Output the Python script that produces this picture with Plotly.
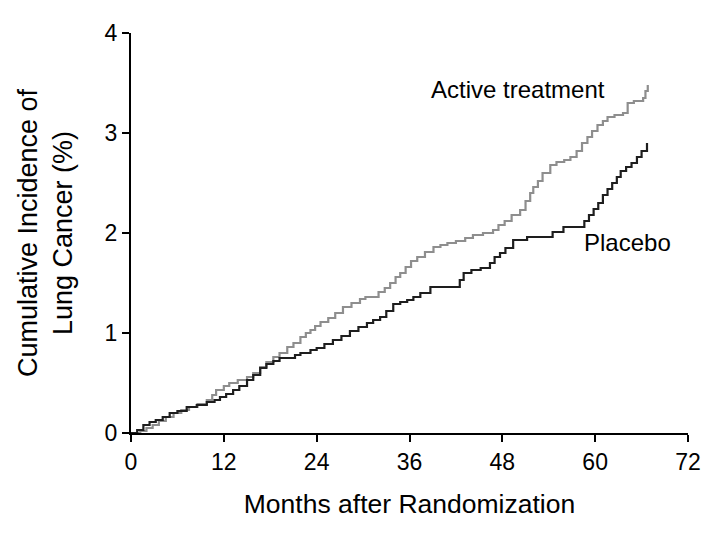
import plotly.graph_objects as go

# Active treatment (months, cumulative incidence %)
active_months = [0, 1.2, 2.0, 2.8, 3.6, 4.5, 5.5, 6.5, 7.5, 8.6, 9.8, 10.5, 11.0, 12.0, 12.7,
                 13.8, 15.0, 15.8, 16.7, 17.5, 18.4, 19.2, 20.2, 21.0, 21.9, 22.6, 23.2, 23.8,
                 24.5, 25.5, 26.4, 27.4, 28.5, 29.6, 30.3, 32.0, 32.8, 33.5, 34.2, 34.8, 35.5,
                 36.2, 37.0, 38.0, 39.1, 40.0, 40.9, 42.0, 43.2, 44.2, 45.5, 46.8, 47.5, 48.3,
                 49.2, 50.3, 51.0, 51.6, 52.0, 52.6, 53.2, 54.2, 55.0, 56.0, 56.8, 57.6, 58.3,
                 59.0, 59.6, 60.3, 61.0, 61.6, 62.5, 63.6, 64.2, 65.0, 66.2, 66.5, 66.8]
active_values = [0, 0.02, 0.05, 0.08, 0.12, 0.16, 0.20, 0.23, 0.26, 0.29, 0.33, 0.38, 0.43, 0.47, 0.50,
                 0.53, 0.56, 0.60, 0.66, 0.71, 0.76, 0.80, 0.86, 0.90, 0.96, 1.00, 1.03, 1.07,
                 1.11, 1.15, 1.20, 1.26, 1.30, 1.34, 1.36, 1.41, 1.45, 1.50, 1.56, 1.60, 1.66,
                 1.72, 1.76, 1.81, 1.86, 1.88, 1.90, 1.92, 1.95, 1.98, 2.00, 2.03, 2.08, 2.12,
                 2.18, 2.23, 2.32, 2.40, 2.46, 2.52, 2.60, 2.68, 2.71, 2.73, 2.76, 2.82, 2.90,
                 2.96, 3.02, 3.08, 3.12, 3.16, 3.18, 3.20, 3.30, 3.32, 3.35, 3.42, 3.48]

# Placebo
placebo_months = [0, 0.8, 1.6, 2.4, 3.2, 4.1, 5.0, 6.0, 7.2, 8.5, 9.8, 10.8, 11.5, 12.3, 13.2,
                  14.0, 15.0, 15.8, 16.7, 17.5, 18.4, 19.2, 21.2, 21.9, 23.2, 24.0, 25.0, 26.1,
                  27.2, 28.3, 29.4, 30.5, 31.3, 32.2, 33.0, 33.9, 34.8, 35.7, 36.5, 37.4, 38.7,
                  42.5, 43.0, 44.0, 45.2, 46.4, 47.0, 47.7, 48.4, 49.4, 51.2, 54.5, 55.9, 58.6,
                  59.2, 59.8, 60.4, 61.0, 61.6, 62.2, 62.8, 63.3, 64.0, 64.7, 65.4, 66.0, 66.7]
placebo_values = [0, 0.03, 0.08, 0.11, 0.13, 0.16, 0.20, 0.22, 0.26, 0.28, 0.31, 0.33, 0.36, 0.39, 0.43,
                  0.47, 0.53, 0.58, 0.65, 0.69, 0.72, 0.75, 0.78, 0.80, 0.83, 0.85, 0.89, 0.93,
                  0.97, 1.02, 1.06, 1.10, 1.13, 1.16, 1.22, 1.29, 1.31, 1.33, 1.36, 1.40, 1.46,
                  1.53, 1.60, 1.63, 1.65, 1.70, 1.76, 1.80, 1.85, 1.93, 1.96, 2.01, 2.06, 2.12,
                  2.18, 2.24, 2.30, 2.38, 2.44, 2.50, 2.56, 2.62, 2.66, 2.70, 2.76, 2.82, 2.90]

x_ticks = [0, 12, 24, 36, 48, 60, 72]
y_ticks = [0, 1, 2, 3, 4]

FONT = "Liberation Sans, Arial, Helvetica, sans-serif"

fig = go.Figure()
fig.add_trace(go.Scatter(x=active_months, y=active_values, mode="lines", line_shape="hv",
                         line=dict(color="#8e8e8e", width=2.2), name="Active treatment"))
fig.add_trace(go.Scatter(x=placebo_months, y=placebo_values, mode="lines", line_shape="hv",
                         line=dict(color="#1e1e1e", width=2.2), name="Placebo"))

fig.add_annotation(x=50, y=3.44, text="Active treatment", showarrow=False,
                   font=dict(family=FONT, size=24, color="black"))
fig.add_annotation(x=64.2, y=1.91, text="Placebo", showarrow=False,
                   font=dict(family=FONT, size=24, color="black"))

fig.update_layout(
    width=723, height=534,
    margin=dict(l=123, r=43, t=25, b=109),
    paper_bgcolor="white", plot_bgcolor="white",
    showlegend=False,
    font=dict(family=FONT, color="black"),
)
fig.update_xaxes(range=[0, 72], tickvals=x_ticks, ticktext=[str(v) for v in x_ticks],
                 showline=True, linecolor="black", linewidth=2, ticks="outside",
                 ticklen=7, tickwidth=2, tickcolor="black", showgrid=False, zeroline=False,
                 tickfont=dict(size=23, family=FONT),
                 title=dict(text="Months after Randomization", font=dict(size=26.5, family=FONT), standoff=21))
fig.update_yaxes(range=[0, 4], tickvals=y_ticks, ticktext=[str(v) for v in y_ticks],
                 showline=True, linecolor="black", linewidth=2, ticks="outside",
                 ticklen=7, tickwidth=2, tickcolor="black", showgrid=False, zeroline=False,
                 tickfont=dict(size=23, family=FONT),
                 title=dict(text="Cumulative Incidence of<br>Lung Cancer (%)", font=dict(size=27, family=FONT), standoff=24))

fig.write_html("out.html")
